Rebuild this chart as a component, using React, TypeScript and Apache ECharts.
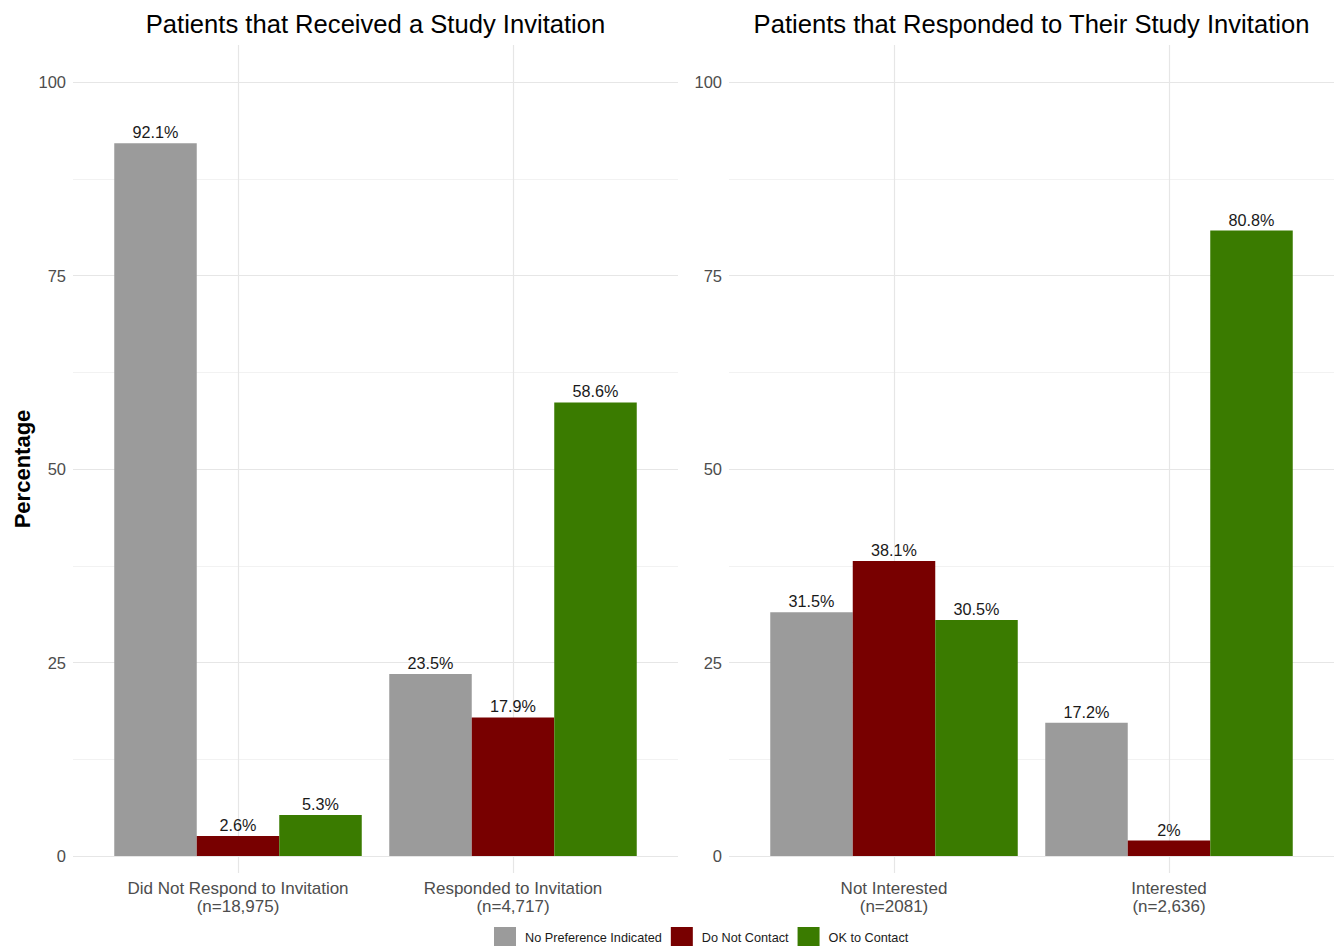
import React, { useEffect, useRef } from "react";
import * as echarts from "echarts";

const seriesNames = ["No Preference Indicated", "Do Not Contact", "OK to Contact"];
const seriesColors = ["#9b9b9b", "#780000", "#3a7b00"];

const leftTitle = "Patients that Received a Study Invitation";
const rightTitle = "Patients that Responded to Their Study Invitation";

const leftCategories = ["Did Not Respond to Invitation\n(n=18,975)", "Responded to Invitation\n(n=4,717)"];
const rightCategories = ["Not Interested\n(n=2081)", "Interested\n(n=2,636)"];

// values per series: [No Preference, Do Not Contact, OK to Contact]
const leftNoPref = [92.1, 23.5];
const leftDoNot = [2.6, 17.9];
const leftOk = [5.3, 58.6];

const rightNoPref = [31.5, 17.2];
const rightDoNot = [38.1, 2];
const rightOk = [30.5, 80.8];

const yTicks = [0, 25, 50, 75, 100];

const FONT = "Liberation Sans, Arial, Helvetica, sans-serif";

export default function App() {
  const ref = useRef<HTMLDivElement>(null);
  useEffect(() => {
    if (!ref.current) return;
    const chart = echarts.init(ref.current, undefined, { renderer: "svg" });

    const panelTop = 45;
    const panelBottomY = 873;
    const zeroY = 856;
    const hundredY = 82;
    const pxPerUnit = (zeroY - hundredY) / 100;
    const narrowMin = -(panelBottomY - zeroY) / pxPerUnit;
    const narrowMax = 100 + (hundredY - panelTop) / pxPerUnit;

    const wideGrids = [
      { left: 73, width: 605 },
      { left: 729, width: 605 },
    ];
    const narrowGrids = [
      { left: 100.5, width: 550 },
      { left: 756.5, width: 550 },
    ];

    const grid: any[] = [];
    wideGrids.forEach((g) =>
      grid.push({ left: g.left, width: g.width, top: hundredY, height: zeroY - hundredY, containLabel: false })
    );
    narrowGrids.forEach((g) =>
      grid.push({ left: g.left, width: g.width, top: panelTop, height: panelBottomY - panelTop, containLabel: false })
    );

    const xAxis: any[] = [];
    const yAxis: any[] = [];
    // wide grids: y labels & horizontal gridlines
    [0, 1].forEach((i) => {
      xAxis.push({ type: "value", gridIndex: i, min: 0, max: 1, show: false });
      yAxis.push({
        type: "value",
        gridIndex: i,
        min: yTicks[0],
        max: yTicks[yTicks.length - 1],
        interval: 25,
        axisLine: { show: false },
        axisTick: { show: false },
        axisLabel: { color: "#4d4d4d", fontSize: 16.5, fontFamily: FONT, margin: 7 },
        splitLine: { show: true, lineStyle: { color: "#e6e6e6", width: 1.2 } },
        minorTick: { show: false, splitNumber: 2 },
        minorSplitLine: { show: true, lineStyle: { color: "#f2f2f2", width: 1 } },
        name: i === 0 ? "Percentage" : "",
        nameLocation: "middle",
        nameRotate: 90,
        nameGap: 40,
        nameTextStyle: { color: "#000", fontWeight: "bold", fontSize: 22, fontFamily: FONT },
      });
    });
    // narrow grids: categories & bars
    [leftCategories, rightCategories].forEach((cats, i) => {
      xAxis.push({
        type: "category",
        gridIndex: 2 + i,
        data: cats,
        boundaryGap: true,
        axisLine: { show: false },
        axisTick: { show: false },
        axisLabel: {
          interval: 0,
          color: "#4d4d4d",
          fontSize: 17,
          lineHeight: 18,
          fontFamily: FONT,
          margin: 6,
        },
        splitLine: { show: true, alignWithLabel: true, lineStyle: { color: "#e6e6e6", width: 1.2 } },
      });
      yAxis.push({
        type: "value",
        gridIndex: 2 + i,
        min: narrowMin,
        max: narrowMax,
        show: false,
        splitLine: { show: false },
      });
    });

    const panelData = [
      [leftNoPref, leftDoNot, leftOk],
      [rightNoPref, rightDoNot, rightOk],
    ];
    const series: any[] = [];
    panelData.forEach((vals, p) => {
      vals.forEach((arr, s) => {
        series.push({
          type: "bar",
          name: seriesNames[s],
          xAxisIndex: 2 + p,
          yAxisIndex: 2 + p,
          data: arr,
          barGap: "0%",
          barCategoryGap: "10%",
          itemStyle: { color: seriesColors[s] },
          label: {
            show: true,
            position: "top",
            distance: 3,
            color: "#1a1a1a",
            fontSize: 16.2,
            fontFamily: FONT,
            formatter: (d: any) => `${d.value}%`,
          },
        });
      });
    });

    chart.setOption({
      animation: false,
      backgroundColor: "#ffffff",
      textStyle: { fontFamily: FONT },
      title: [
        {
          text: leftTitle,
          left: 370.5,
          top: 6,
          textAlign: "center",
          textStyle: { color: "#000", fontSize: 25.6, fontWeight: "normal", fontFamily: FONT },
        },
        {
          text: rightTitle,
          left: 1026.5,
          top: 6,
          textAlign: "center",
          textStyle: { color: "#000", fontSize: 25.6, fontWeight: "normal", fontFamily: FONT },
        },
      ],
      legend: {
        data: seriesNames,
        left: 489,
        top: 922,
        itemWidth: 22,
        itemHeight: 22,
        itemGap: 9,
        icon: "rect",
        textStyle: { color: "#1a1a1a", fontSize: 12.7, fontFamily: FONT, padding: [2, 0, 0, 4] },
      },
      grid,
      xAxis,
      yAxis,
      series,
    });
    return () => chart.dispose();
  }, []);
  return <div ref={ref} style={{ position: "fixed", left: 0, top: 0, width: 1338, height: 946 }} />;
}
